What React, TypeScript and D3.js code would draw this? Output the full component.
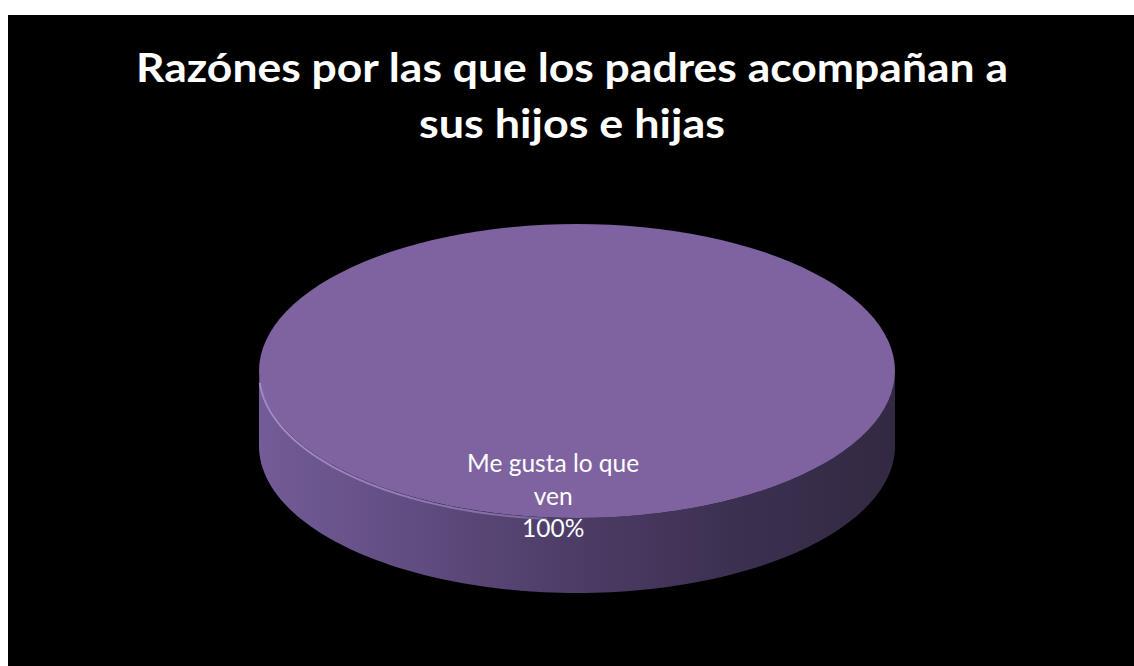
import * as d3 from "d3";

// chart data
const categories = ["Me gusta lo que ven"];
const values = [100];
const labelLines = [["Me gusta lo que", "ven"]];
const titleLines = ["Razónes por las que los padres acompañan a", "sus hijos e hijas"];

const W = 1134;
const H = 666;
const cx = 577;
const cy = 371;
const rx = 318;
const ry = 147;
const depth = 75;

// project a pie angle (0 = top, clockwise) onto the tilted ellipse
const px = (a: number) => cx + rx * Math.sin(a);
const py = (a: number) => cy - ry * Math.cos(a);

function arcPoints(a0: number, a1: number, dy = 0, n = 120) {
  return d3.range(n + 1).map((i) => {
    const a = a0 + ((a1 - a0) * i) / n;
    return [px(a), py(a) + dy] as [number, number];
  });
}

export default function App() {
  const pie = d3.pie<number>().sort(null)(values);
  const line = d3.line();
  const fmt = d3.format(".0%");
  const total = d3.sum(values);

  return (
    <svg
      width={W}
      height={H}
      style={{ position: "fixed", left: 0, top: 0, display: "block" }}
    >
      <defs>
        <linearGradient id="side" x1={cx - rx} x2={cx + rx} y1={0} y2={0} gradientUnits="userSpaceOnUse">
          <stop offset="0%" stopColor="#735c97" />
          <stop offset="25%" stopColor="#604c80" />
          <stop offset="50%" stopColor="#4c3c66" />
          <stop offset="75%" stopColor="#3c3050" />
          <stop offset="100%" stopColor="#332942" />
        </linearGradient>
        <linearGradient id="rim" x1={cx - rx} x2={cx + rx * 0.3} y1={0} y2={0} gradientUnits="userSpaceOnUse">
          <stop offset="0%" stopColor="#b9a3dc" stopOpacity={0.7} />
          <stop offset="70%" stopColor="#a58ccb" stopOpacity={0.5} />
          <stop offset="100%" stopColor="#a58ccb" stopOpacity={0} />
        </linearGradient>
      </defs>
      <rect x={0} y={0} width={W} height={H} fill="#ffffff" />
      <rect x={8} y={15} width={W - 8} height={H - 15} fill="#000000" />

      {titleLines.map((t, i) => (
        <text
          key={i}
          x={572}
          y={82 + i * 56}
          textAnchor="middle"
          fill="#ffffff"
          fontFamily="Lato, 'Open Sans', sans-serif"
          fontWeight={700}
          fontSize={40}
          textLength={i === 0 ? 872 : 306}
          lengthAdjust="spacingAndGlyphs"
        >
          {t}
        </text>
      ))}

      {pie.map((s, i) => {
        // visible front side: angles between PI/2 and 3PI/2
        const f0 = Math.max(s.startAngle, Math.PI / 2);
        const f1 = Math.min(s.endAngle, (3 * Math.PI) / 2);
        const topPts = arcPoints(f0, f1);
        const botPts = arcPoints(f1, f0, depth);
        const sidePath = line([...topPts, ...botPts])! + "Z";
        const full = s.endAngle - s.startAngle >= 2 * Math.PI - 1e-6;
        const faceLine = full
          ? line(arcPoints(s.startAngle, s.endAngle))! + "Z"
          : line([[cx, cy], ...arcPoints(s.startAngle, s.endAngle)])! + "Z";
        const rimPts = arcPoints(Math.PI * 1.03, (3 * Math.PI) / 2 * 0.985, 1.5);
        return (
          <g key={categories[i]}>
            <path d={sidePath} fill="url(#side)" />
            <path d={faceLine} fill="#7e63a0" />
            <path d={line(rimPts)!} fill="none" stroke="url(#rim)" strokeWidth={2} />
          </g>
        );
      })}

      {pie.map((s, i) => {
        const lx = cx - rx * 0.075;
        const ly = cy + ry * 0.69;
        const lines = [...labelLines[i], fmt(s.data / total)];
        return (
          <text
            key={i}
            textAnchor="middle"
            fill="#ffffff"
            fontFamily="Lato, 'Open Sans', sans-serif"
            fontSize={24.5}
          >
            {lines.map((l, j) => (
              <tspan key={j} x={lx} y={ly + j * 32.5}>
                {l}
              </tspan>
            ))}
          </text>
        );
      })}
    </svg>
  );
}
